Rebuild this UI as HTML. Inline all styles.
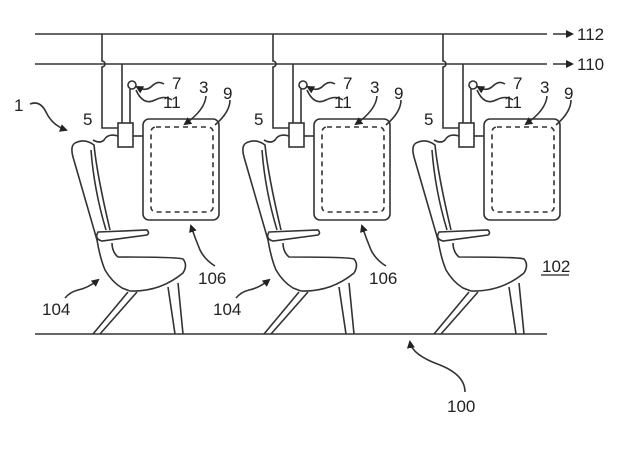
<!DOCTYPE html>
<html><head><meta charset="utf-8"><style>
html,body{margin:0;padding:0;background:#fff;}
svg{display:block;}
text{font-family:"Liberation Sans",sans-serif;font-size:17px;fill:#222;}
</style></head><body>
<svg width="632" height="474" viewBox="0 0 632 474" xmlns="http://www.w3.org/2000/svg">
<defs>
<marker id="ah" markerWidth="8" markerHeight="8" refX="6" refY="4" orient="auto" markerUnits="userSpaceOnUse">
<path d="M0,0 L8,4 L0,8 Z" fill="#222"/></marker>
<g id="unit" fill="none" stroke="#333" stroke-width="1.6">
  <path d="M102,34 V61 a3,3 0 0 1 0,6 V128 H118"/>
  <path d="M122,64 V123"/>
  <rect x="118" y="123" width="15" height="24" fill="#fff"/>
  <circle cx="132" cy="85" r="4"/>
  <path d="M130,89 V123"/>
  <path d="M133,136 H143"/>
  <rect x="143" y="119" width="76" height="101" rx="6"/>
  <rect x="151" y="127" width="62" height="85" rx="5" stroke-dasharray="5,4"/>
  <path d="M75,143 Q85,138 94,145 Q97,175 110,230"/>
  <path d="M75,143 Q70,146 73,157 L97,240 Q100,258 105,270 Q112,282 122,288 L130,291 Q160,292 183,273 Q188,265 183,259 Q178,257 118,257 Q112,252 112,243"/>
  <path d="M91,150 Q94,190 106,230"/>
  <path d="M98,232 L147,230 Q150,233 147,235 L102,241 Q94,239 98,232 Z"/>
  <path d="M128,292 L93,334 M137,292 L100,334"/>
  <path d="M168,287 L175,334 M178,283 L183,334"/>
  <path d="M118,136 Q108,133 104,140 Q100,144 93,140" />
  <path d="M164,84 Q158,80 152,86 Q146,92 137,87" marker-end="url(#ah)"/>
  <path d="M172,100 Q165,95 155,100 Q143,106 136,90"/>
  <path d="M206,96 Q205,110 185,124" marker-end="url(#ah)"/>
  <path d="M230,100 Q230,112 215,125"/>
</g>
<g id="lead" fill="none" stroke="#333" stroke-width="1.6">
  <path d="M215,266 Q205,260 200,250 Q195,238 191,226" marker-end="url(#ah)"/>
  <path d="M65,298 Q70,292 78,290 Q88,288 98,280" marker-end="url(#ah)"/>
</g>
</defs>
<g fill="none" stroke="#333" stroke-width="1.6">
  <path d="M35,34 H547"/>
  <path d="M35,64 H547"/>
  <path d="M553,34 H572" marker-end="url(#ah)"/>
  <path d="M553,64 H572" marker-end="url(#ah)"/>
  <path d="M35,334 H547"/>
  <path d="M465,392 Q465,375 440,365 Q412,355 410,342" marker-end="url(#ah)"/>
  <path d="M30,104 Q40,100 46,112 Q52,125 66,130" marker-end="url(#ah)"/>
</g>
<use href="#unit"/>
<use href="#unit" transform="translate(171,0)"/>
<use href="#unit" transform="translate(341,0)"/>
<use href="#lead"/>
<use href="#lead" transform="translate(171,0)"/>
<g>
<text x="577" y="40">112</text>
<text x="577" y="70">110</text>
<text x="14" y="111">1</text>
<text x="542" y="272">102</text>
<path d="M541,275 H569" stroke="#222" stroke-width="1.3"/>
<text x="447" y="412">100</text>
</g>
<g>
<text x="83" y="125">5</text><text x="172" y="89">7</text><text x="199" y="93">3</text><text x="223" y="99">9</text><text x="163" y="108">11</text><text x="198" y="284">106</text><text x="42" y="315">104</text>
<text x="254" y="125">5</text><text x="343" y="89">7</text><text x="370" y="93">3</text><text x="394" y="99">9</text><text x="334" y="108">11</text><text x="369" y="284">106</text><text x="213" y="315">104</text>
<text x="424" y="125">5</text><text x="513" y="89">7</text><text x="540" y="93">3</text><text x="564" y="99">9</text><text x="504" y="108">11</text>
</g>
</svg>
</body></html>
